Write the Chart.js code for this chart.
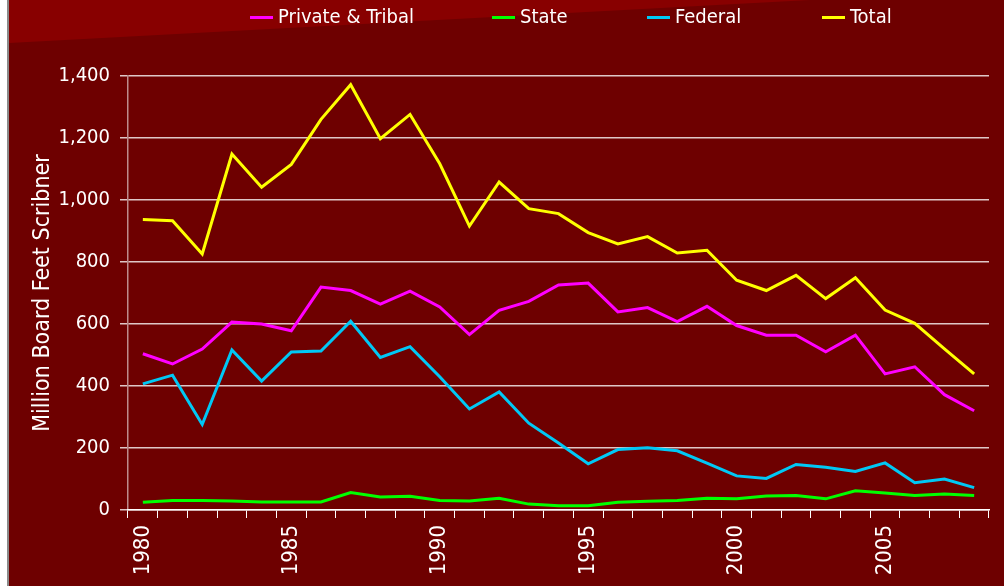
<!DOCTYPE html>
<html>
<head>
<meta charset="utf-8">
<script src="https://cdn.jsdelivr.net/npm/chart.js@4.4.1/dist/chart.umd.min.js"></script>
<style>
  html, body { margin: 0; padding: 0; background: #ffffff; }
  canvas { display: block; }
</style>
</head>
<body>
<canvas id="harvestChart" width="1004" height="586"></canvas>
<script>
// Timber harvest, million board feet (Scribner)
const years = [1980, 1981, 1982, 1983, 1984, 1985, 1986, 1987, 1988, 1989,
               1990, 1991, 1992, 1993, 1994, 1995, 1996, 1997, 1998, 1999,
               2000, 2001, 2002, 2003, 2004, 2005, 2006, 2007, 2008];
const privateTribal = [504, 471, 519, 606, 600, 578, 719, 708, 664, 706,
                       655, 566, 644, 673, 726, 732, 639, 653, 608, 657,
                       595, 564, 564, 510, 564, 439, 462, 372, 320];
const stateLand = [25, 31, 31, 29, 26, 26, 26, 56, 42, 44,
                   31, 29, 38, 19, 14, 14, 25, 28, 31, 38,
                   36, 45, 47, 36, 62, 55, 47, 52, 47];
const federal = [407, 435, 276, 516, 416, 510, 513, 609, 492, 527,
                 430, 326, 381, 280, 216, 149, 195, 201, 191, 151,
                 110, 102, 147, 138, 124, 152, 88, 100, 72];
const total = [937, 933, 826, 1148, 1041, 1115, 1260, 1372, 1198, 1276,
               1117, 916, 1058, 972, 956, 895, 858, 882, 829, 838,
               741, 708, 757, 682, 749, 645, 602, 520, 439];
const yTicks = [0, 200, 400, 600, 800, 1000, 1200, 1400];

const FONT = "'Liberation Sans Narrow', 'Arial Narrow', 'DejaVu Sans Condensed', sans-serif";

// red panel with the lighter wedge in the top left corner
const backdrop = {
    id: 'backdrop',
    beforeDraw(chart) {
        const ctx = chart.ctx;
        ctx.save();
        ctx.fillStyle = '#ffffff';
        ctx.fillRect(0, 0, chart.width, chart.height);
        ctx.fillStyle = '#8a8a8a';
        ctx.fillRect(7, 0, 2, chart.height);
        ctx.fillStyle = '#6e0000';
        ctx.fillRect(9, 0, chart.width - 9, chart.height);
        ctx.fillStyle = '#880000';
        ctx.beginPath();
        ctx.moveTo(9, 0);
        ctx.lineTo(810, 0);
        ctx.lineTo(9, 43);
        ctx.closePath();
        ctx.fill();
        ctx.restore();
    }
};

// legend row drawn by hand so it sits where the original one does
const legendX = [250, 492, 647, 822];
const topLegend = {
    id: 'topLegend',
    afterDraw(chart) {
        const ctx = chart.ctx;
        ctx.save();
        ctx.font = '20px ' + FONT;
        ctx.textBaseline = 'middle';
        chart.data.datasets.forEach((ds, i) => {
            const x = legendX[i];
            ctx.fillStyle = ds.borderColor;
            ctx.fillRect(x, 16, 23, 3);
            ctx.fillStyle = '#ffffff';
            ctx.fillText(ds.label, x + 28, 18);
        });
        ctx.restore();
    }
};

const makeLine = (label, data, color) => ({
    label: label,
    data: data,
    borderColor: color,
    backgroundColor: color,
    borderWidth: 3,
    pointRadius: 0,
    tension: 0,
    fill: false
});

new Chart(document.getElementById('harvestChart').getContext('2d'), {
    type: 'line',
    data: {
        labels: years,
        datasets: [
            makeLine('Private & Tribal', privateTribal, '#ff00ff'),
            makeLine('State', stateLand, '#00ff00'),
            makeLine('Federal', federal, '#00c8f5'),
            makeLine('Total', total, '#ffff00')
        ]
    },
    plugins: [backdrop, topLegend],
    options: {
        responsive: false,
        animation: false,
        layout: { padding: { left: 20, top: 76, right: 15, bottom: 0 } },
        plugins: {
            legend: { display: false },
            tooltip: { enabled: false }
        },
        scales: {
            x: {
                type: 'category',
                offset: true,
                afterFit: s => {
                    s.height = 76;
                    s.paddingLeft = 0;
                    s.paddingRight = 0;
                },
                grid: {
                    offset: true,
                    drawOnChartArea: false,
                    drawTicks: true,
                    tickLength: 8,
                    color: '#ffffff'
                },
                border: { color: '#ffffff', width: 1.5 },
                ticks: {
                    autoSkip: false,
                    minRotation: 90,
                    maxRotation: 90,
                    padding: 7,
                    color: '#ffffff',
                    font: { family: FONT, size: 22 },
                    callback: function (value) {
                        const y = years[value];
                        return y % 5 === 0 ? String(y) : '';
                    }
                }
            },
            y: {
                min: yTicks[0],
                max: yTicks[yTicks.length - 1],
                afterFit: s => { s.width = 108; },
                afterBuildTicks: s => { s.ticks = yTicks.map(v => ({ value: v })); },
                grid: {
                    color: 'rgba(255,255,255,0.78)',
                    lineWidth: 1.5,
                    tickLength: 8
                },
                border: { color: 'rgba(255,255,255,0.55)', width: 1.5 },
                ticks: {
                    padding: 10,
                    color: '#ffffff',
                    font: { family: FONT, size: 20 },
                    callback: v => v.toLocaleString('en-US')
                },
                title: {
                    display: true,
                    text: 'Million Board Feet Scribner',
                    color: '#ffffff',
                    font: { family: FONT, size: 23 },
                    padding: { top: 9, bottom: 0 }
                }
            }
        }
    }
});
</script>
</body>
</html>
